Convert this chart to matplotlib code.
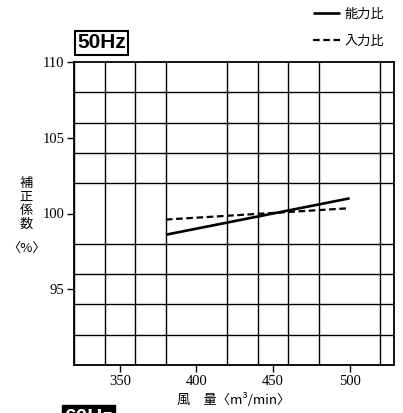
import matplotlib
matplotlib.use("Agg")
import matplotlib.pyplot as plt
from matplotlib.ticker import MultipleLocator

# Data
air_flow = [380, 500]
capacity_ratio = [98.6, 101.0]   # 能力比
input_ratio = [99.6, 100.35]     # 入力比
x_ticks = [350, 400, 450, 500]
y_ticks = [95, 100, 105, 110]
series_labels = ["能力比", "入力比"]

cjk = ["Noto Sans CJK JP", "DejaVu Sans"]
serif = ["Liberation Serif", "DejaVu Serif"]

fig = plt.figure(figsize=(4.03, 4.13), dpi=100)
ax = fig.add_axes([74/403, 1-365/413, 320/403, 303/413])

ax.set_xlim(320, 529)
ax.set_ylim(90, 110)

# grid via minor ticks
ax.xaxis.set_minor_locator(MultipleLocator(20))
ax.yaxis.set_minor_locator(MultipleLocator(2))
ax.grid(which="minor", color="black", linewidth=1.0)
ax.tick_params(which="minor", length=0)
ax.set_xticks(x_ticks)
ax.set_yticks(y_ticks)
ax.tick_params(which="major", direction="out", length=5, width=1.0, pad=2, labelsize=10.5)
for lab in ax.get_xticklabels() + ax.get_yticklabels():
    lab.set_family(serif)
for s in ax.spines.values():
    s.set_linewidth(1.3)
ax.set_axisbelow(True)

l1, = ax.plot(air_flow, capacity_ratio, color="black", linewidth=1.9, solid_capstyle="butt")
l2, = ax.plot(air_flow, input_ratio, color="black", linewidth=1.6, linestyle=(0, (3, 1.6)))

fig.legend([l1, l2], series_labels, loc="upper left", bbox_to_anchor=(306/403, 1-1/413),
           frameon=False, borderpad=0, handlelength=2.1, handletextpad=0.3,
           labelspacing=1.1, prop={"family": cjk, "size": 9.5})

# 50Hz box
fig.text(77/403, 1-43/413, "50Hz", fontsize=15, family=["Liberation Sans", "DejaVu Sans"],
         fontweight="bold", va="center", ha="left",
         bbox=dict(boxstyle="square,pad=0.1", facecolor="white", edgecolor="black", linewidth=1.5))

# y label stacked
fig.text(26/403, 1-204/413, "補\n正\n係\n数", fontsize=9.5, family=cjk, ha="center", va="center",
         linespacing=1.05)
fig.text(27/403, 1-248/413, "〈%〉", fontsize=9.5, family=cjk, ha="center", va="center")

# x label
fig.text(234/403, 1-400/413, "風　量〈m³/min〉", fontsize=9.5, family=cjk, ha="center", va="center")

# partial 60Hz label at bottom (cut off by the page edge, as in the reference)
fig.text(64/403, 1-417/413, "60Hz", fontsize=15, family=["Liberation Sans", "DejaVu Sans"],
         fontweight="bold", color="white", va="center", ha="left",
         bbox=dict(boxstyle="square,pad=0.1", facecolor="black", edgecolor="black"))

fig.savefig("out.png", dpi=100)
